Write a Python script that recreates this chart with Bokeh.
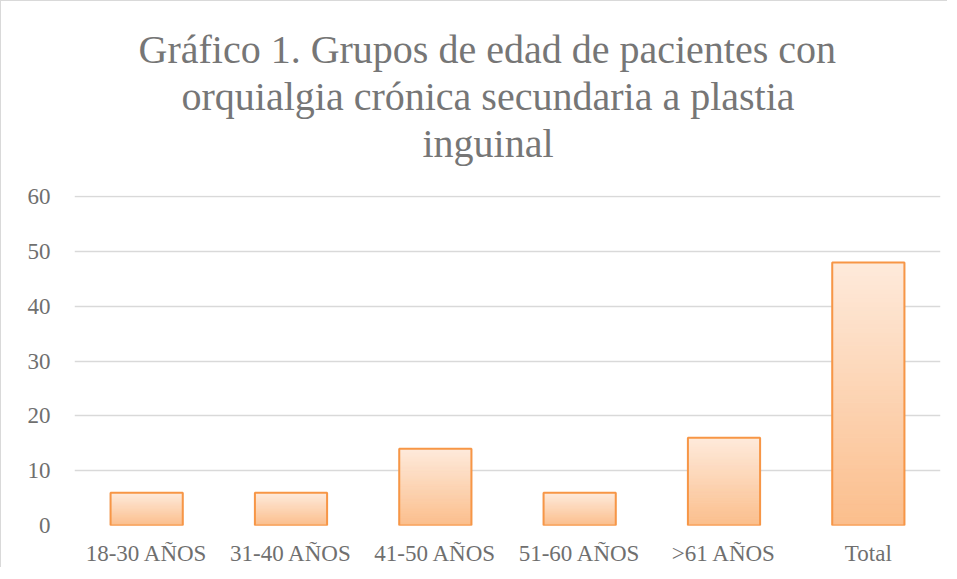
import numpy as np
from bokeh.plotting import figure
from bokeh.models import Title, SingleIntervalTicker, Range1d
from bokeh.embed import file_html
from bokeh.resources import INLINE

categories = ["18-30 AÑOS", "31-40 AÑOS", "41-50 AÑOS", "51-60 AÑOS", ">61 AÑOS", "Total"]
values = [6, 6, 14, 6, 16, 48]
title_lines = ["Gráfico 1. Grupos de edad de pacientes con",
               "orquialgia crónica secundaria a plastia",
               "inguinal"]
title_offsets = [64, 107, 348]   # left offsets so each line centres on the chart

FONT = "Liberation Serif"
GREY = "#6f6f6f"

p = figure(x_range=categories, y_range=Range1d(0, 60.25), width=947, height=567,
           output_backend="svg", toolbar_location=None,
           min_border_left=73, min_border_right=8, min_border_bottom=40,
           min_border_top=194)
p.styles = {"border-left": "1px solid #d9d9d9", "border-top": "1px solid #d9d9d9"}
p.outline_line_color = None
p.title.visible = False

# spacer between plot and title block
p.add_layout(Title(text=" ", text_font_size="25px", standoff=0, offset=0), "above")
# titles (innermost first)
for line, off in reversed(list(zip(title_lines, title_offsets))):
    t = Title(text=line, align="left", text_font=FONT, text_font_size="40px",
              text_color="#767676", text_font_style="normal", standoff=0, offset=off)
    p.add_layout(t, "above")

# gradient bars
top_c = np.array([254, 234, 219])
bot_c = np.array([251, 190, 140])
N = 60
xs, bots, tops, cols = [], [], [], []
for c, v in zip(categories, values):
    for k in range(N):
        f = (k + 0.5) / N
        col = bot_c + (top_c - bot_c) * f
        xs.append(c)
        bots.append(v * k / N)
        tops.append(v * (k + 1) / N)
        cols.append("#%02x%02x%02x" % tuple(int(round(x)) for x in col))

# subtle shadow
p.vbar(x=categories, top=values, width=0.515, fill_color="#000000", fill_alpha=0.06,
       line_color=None)
p.vbar(x=xs, bottom=bots, top=tops, width=0.5, fill_color=cols, line_color=cols,
       line_width=1)
p.vbar(x=categories, top=values, width=0.5, fill_color=None,
       line_color="#f79646", line_width=2)

p.yaxis.ticker = SingleIntervalTicker(interval=10)
for ax in (p.xaxis[0], p.yaxis[0]):
    ax.axis_line_color = None
    ax.major_tick_line_color = None
    ax.minor_tick_line_color = None
    ax.major_tick_out = 0
    ax.major_tick_in = 0
    ax.axis_label_standoff = 0
    ax.major_label_text_font = FONT
    ax.major_label_text_font_size = "23px"
    ax.major_label_text_color = GREY
p.yaxis.major_label_standoff = 20
p.xaxis.major_label_standoff = 15
p.xgrid.grid_line_color = None
p.ygrid.grid_line_color = "#d9d9d9"
p.ygrid.grid_line_width = 1.5

open("out.html", "w").write(file_html(p, INLINE))
